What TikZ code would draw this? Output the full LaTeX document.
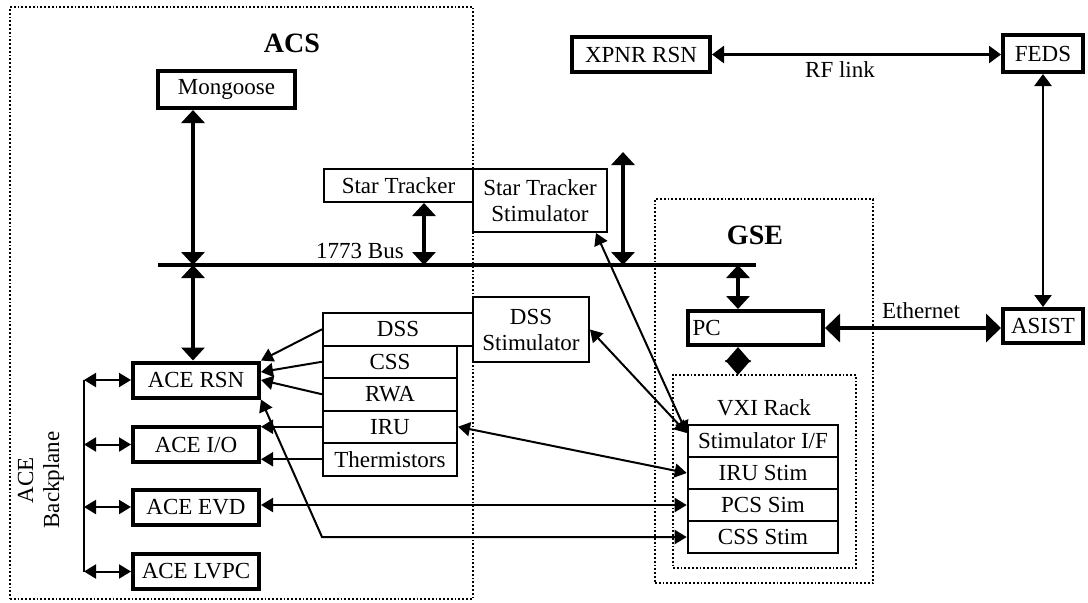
\documentclass[tikz,border=0pt]{standalone}
\usepackage{fontspec}
\setmainfont{Liberation Serif}
\usetikzlibrary{arrows.meta}

\begin{document}
\begin{tikzpicture}[x=0.5pt,y=-0.5pt,
  every node/.style={font=\fontsize{11.5}{13}\selectfont},
  box/.style={draw, line width=1pt, inner sep=1pt},
  tbox/.style={box, line width=2pt},
  abox/.style={tbox, minimum width=63pt, minimum height=17.5pt},
  sbox/.style={box, line width=1.3pt, minimum width=75pt, minimum height=16pt},
  grp/.style={draw, densely dotted, line width=0.9pt, inner sep=0pt, outer sep=0pt},
  ttl/.style={font=\fontsize{14}{16}\bfseries\selectfont},
  lnk/.style={line width=1pt, -{Triangle[length=6pt,width=7pt]}},
  dlnk/.style={line width=1pt, {Triangle[length=6pt,width=7pt]}-{Triangle[length=6pt,width=7pt]}},
  mlnk/.style={line width=1.3pt, {Triangle[length=6pt,width=8.5pt]}-{Triangle[length=6pt,width=8.5pt]}},
  thk/.style={line width=2pt, {Triangle[length=6.5pt,width=11.5pt]}-{Triangle[length=6.5pt,width=11.5pt]}}
]
\useasboundingbox (0,0) rectangle (1088,602);

\node[grp, minimum width=231.5pt, minimum height=296pt] (acs) at (241.5,303) {};
\node[grp, minimum width=109pt, minimum height=192pt] (gse) at (764,391) {};
\node[grp, minimum width=91.5pt, minimum height=96.5pt] (vxi) at (764.5,471.5) {};
\node[ttl] (acstitle) at (292,43) {ACS};
\node[ttl] (gsetitle) at (755,235) {GSE};
\node (vxititle) at (764,408) {VXI Rack};

\node[tbox, minimum width=68.5pt, minimum height=18.5pt] (mongoose) at (226.5,89.5) {Mongoose};
\node[tbox, minimum width=69pt, minimum height=17.5pt] (xpnr) at (641,54.5) {XPNR RSN};
\node[tbox, minimum width=40pt, minimum height=18.5pt] (feds) at (1043,53.5) {FEDS};
\node[tbox, minimum width=40pt, minimum height=17pt] (asist) at (1043,326) {ASIST};
\node[tbox, minimum width=67.5pt, minimum height=17pt, text width=63pt, align=left] (pc) at (755.5,328) {PC};

\node[box, minimum width=74.5pt, minimum height=16.5pt] (st) at (398.5,185.5) {Star Tracker};
\node[box, minimum width=67pt, minimum height=31.5pt, align=center] (sts) at (540,200.5) {Star Tracker\\Stimulator};
\node[box, minimum width=58pt, minimum height=32.5pt, align=center] (dssstim) at (531,329.5) {DSS\\Stimulator};

\node[box, minimum width=75pt, minimum height=16.25pt] (dss) at (398,329.25) {DSS};
\foreach \n/\t/\y in {css/CSS/361.75, rwa/RWA/394.25, iru/IRU/426.75, therm/Thermistors/459.25}
  \node[box, minimum width=67pt, minimum height=16.25pt] (\n) at (390,\y) {\t};

\node[abox] (rsn) at (196,380) {ACE RSN};
\node[abox] (io) at (196,444.5) {ACE I/O};
\node[abox] (evd) at (196,507) {ACE EVD};
\node[abox] (lvpc) at (196,571.5) {ACE LVPC};

\node[sbox] (stimif) at (763,441) {Stimulator I/F};
\node[sbox] (irustim) at (763,473) {IRU Stim};
\node[sbox] (pcssim) at (763,505) {PCS Sim};
\node[sbox] (cssstim) at (763,537) {CSS Stim};

\node[rotate=90, align=center] (bplabel) at (41,480) {ACE\\Backplane};

\coordinate (busL) at (158,265);
\coordinate (busR) at (756,265);
\coordinate (tapA) at (193,265);
\coordinate (tapB) at (424,265);
\coordinate (tapC) at (623,265);
\coordinate (tapD) at (738,265);
\coordinate (stsarrow) at (623,152);
\coordinate (bpx) at (84,0);

\draw[line width=2pt] (busL) -- (busR);
\node (buslabel) at (360,251) {1773 Bus};
\draw[thk] (mongoose.south -| tapA) -- (tapA);
\draw[thk] (tapA) -- (rsn.north -| tapA);
\draw[thk] (st.south -| tapB) -- (tapB);
\draw[thk] (stsarrow) -- (tapC);
\draw[thk] (tapD) -- (pc.north -| tapD);
\draw[line width=2pt, {Triangle[length=7.5pt,width=12.5pt]}-{Triangle[length=7.5pt,width=12.5pt]}] (pc.south -| tapD) -- (vxi.north -| tapD);

\draw[mlnk] (xpnr.east) -- (xpnr.east -| feds.west);
\node (rflabel) at (840,70) {RF link};
\draw[mlnk] (feds.south) -- (asist.north);
\draw[line width=2pt, {Triangle[length=7.5pt,width=14pt]}-{Triangle[length=7.5pt,width=14pt]}] (pc.east) -- (pc.east -| asist.west);
\node (ethlabel) at (921,311) {Ethernet};

\draw[line width=1pt] (rsn.west -| bpx) -- (lvpc.west -| bpx);
\foreach \b in {rsn,io,evd,lvpc}
  \draw[dlnk] (\b.west -| bpx) -- (\b.west);

\draw[lnk] (dss.west) -- (rsn.north east);
\draw[lnk] (css.west) -- ([yshift=4pt]rsn.east);
\draw[lnk] (rwa.west) -- (rsn.east);
\draw[lnk] (iru.west) -- (iru.west -| io.east);
\draw[lnk] (therm.west) -- (therm.west -| io.east);

\draw[dlnk] ([yshift=4pt]stimif.west) -- ([xshift=-6pt]sts.south east);
\draw[dlnk] ([yshift=4pt]stimif.west) -- (dssstim.east);
\draw[dlnk] (irustim.west) -- (iru.east);
\draw[dlnk] (pcssim.west) -- (pcssim.west -| evd.east);
\draw[dlnk] (cssstim.west) -- (cssstim.west -| css.west) -- (rsn.south east);

\end{tikzpicture}
\end{document}
